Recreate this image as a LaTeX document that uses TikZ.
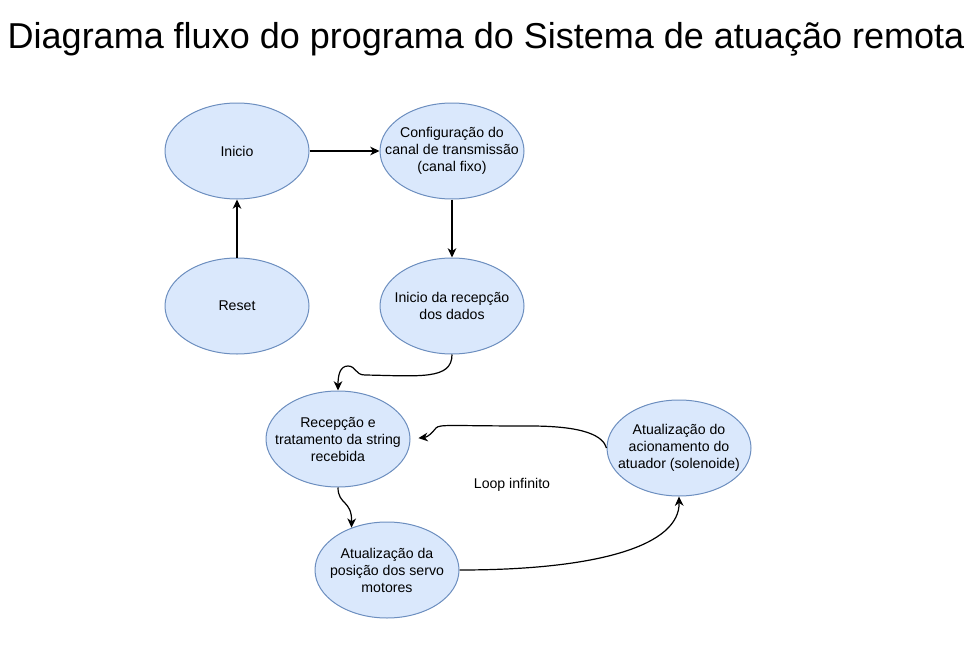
\documentclass[tikz,border=0pt]{standalone}
\usepackage{fontspec}
\setmainfont{Liberation Sans}
\usetikzlibrary{shapes.geometric,arrows.meta}
\definecolor{estadofill}{RGB}{218,232,252}
\definecolor{estadoborda}{RGB}{108,142,191}
\tikzstyle{estado}=[ellipse, draw=estadoborda, fill=estadofill, line width=.75pt, minimum width=108pt, minimum height=72pt, inner xsep=-25pt, inner ysep=-15pt, align=center, font=\fontsize{10.6}{12.75}\selectfont]
\tikzset{fluxo/.style={-{Stealth[length=7pt,width=6.5pt,inset=2.2pt]}, line width=.9pt}}
\begin{document}
\begin{tikzpicture}[x=0.75pt,y=-0.75pt]
  \useasboundingbox (0,0) rectangle (971,646);
  \draw (486,39) node[font=\fontsize{27}{32}\selectfont] (titulo) {Diagrama fluxo do programa do Sistema de atuação remota};

  \draw (237,151) node[estado] (inicio) {Inicio};
  \draw (452,151) node[estado] (config) {Configuração do\\canal de transmissão\\(canal fixo)};
  \draw (237,306) node[estado] (reset) {Reset};
  \draw (452,306) node[estado] (dados) {Inicio da recepção\\dos dados};
  \draw (338,439) node[estado] (string) {Recepção e\\tratamento da string\\recebida};
  \draw (387,570) node[estado] (servo) {Atualização da\\posição dos servo\\motores};
  \draw (679,448) node[estado] (atuador) {Atualização do\\acionamento do\\atuador (solenoide)};

  \draw (512,485) node[font=\fontsize{10.6}{12.75}\selectfont] (loop) {Loop infinito};

  \draw[fluxo] (inicio) -- (config);
  \draw[fluxo] (reset) -- (inicio);
  \draw[fluxo] (config) -- (dados);
  \draw[fluxo] (dados.south) .. controls (452,380) and (420,376) .. (365,375) .. controls (355,375) and (356,366) .. (348,366) .. controls (340,366) and (338,375) .. (string.north);
  \draw[fluxo] (string.south) .. controls (338,505) and (352,500) .. (servo.130);
  \draw[fluxo] (servo.east) .. controls (600,570) and (680,545) .. (atuador.south);
  \draw[fluxo,shorten >=6pt] (atuador.west) .. controls (603,436) and (585,426) .. (530,426) .. controls (450,426) and (440,424) .. (436,428) .. controls (432,433) and (428,437) .. (string.east);
\end{tikzpicture}
\end{document}
